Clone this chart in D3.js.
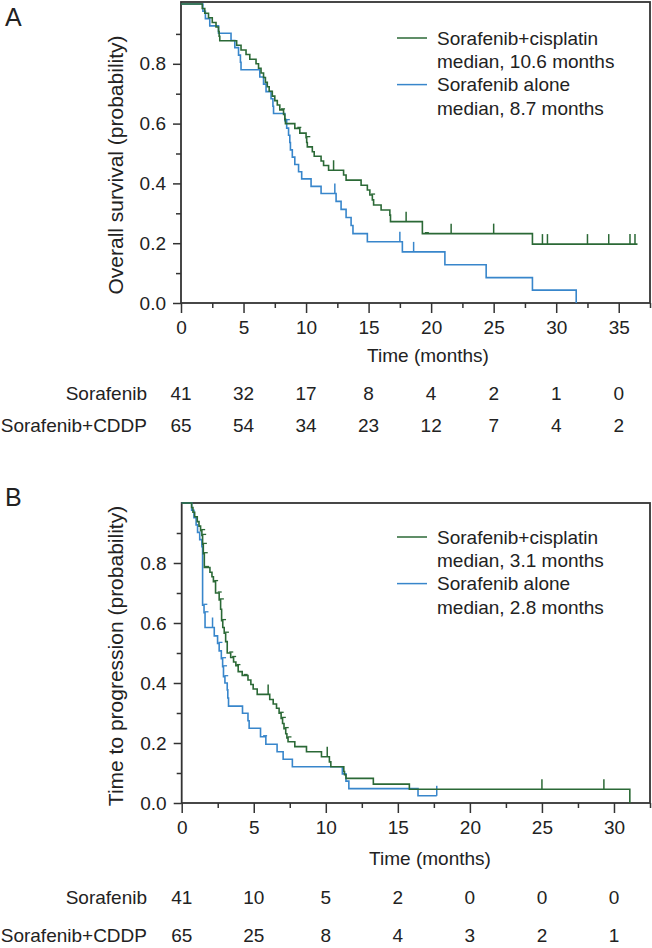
<!DOCTYPE html>
<html><head><meta charset="utf-8">
<script src="https://cdn.jsdelivr.net/npm/d3@7"></script>
<style>body{margin:0;background:#fff}svg{display:block}text{font-family:"Liberation Sans",Arial,sans-serif;fill:#222}</style>
</head><body>
<svg id="c" width="652" height="948"></svg>
<script>
// ---------- DATA ----------
// Panel A: overall survival. Steps are [time (months), survival after drop]
const osComboSteps = [[1.7,0.985],[1.9,0.969],[2.2,0.954],[2.5,0.938],[2.8,0.923],[3.0,0.908],[3.05,0.892],[3.1,0.877],
 [4.45,0.862],[4.8,0.846],[5.2,0.831],[5.5,0.815],[6.0,0.800],[6.2,0.785],[6.4,0.769],[6.6,0.754],[6.75,0.738],[6.9,0.723],
 [7.05,0.708],[7.3,0.692],[7.5,0.677],[7.7,0.662],[7.9,0.646],[8.2,0.631],[8.3,0.615],[8.35,0.600],[9.1,0.584],[9.5,0.568],
 [10.0,0.553],[10.05,0.537],[10.1,0.522],[10.5,0.506],[10.65,0.491],[11.2,0.475],[11.4,0.460],[11.8,0.444],[13.0,0.428],
 [13.2,0.411],[14.4,0.394],[14.9,0.378],[15.1,0.361],[15.3,0.345],[15.4,0.328],[16.0,0.311],[16.7,0.294],[16.75,0.272],
 [19.3,0.232],[28.1,0.197],[36.5,0.197]];
const osComboCensor = [12.2,18.0,21.6,25.0,28.9,29.3,32.5,34.2,35.9,36.3];
const osComboMinor = [8.0,9.3,10.02,15.2,19.5];
const osAloneSteps = [[1.75,0.976],[1.95,0.951],[2.3,0.927],[3.0,0.902],[4.0,0.878],[4.3,0.854],[4.6,0.829],[4.75,0.805],[4.8,0.780],
 [6.3,0.756],[6.6,0.732],[6.8,0.707],[7.2,0.683],[7.35,0.658],[7.4,0.634],[8.3,0.610],[8.45,0.585],[8.6,0.561],[8.7,0.537],
 [8.75,0.512],[8.9,0.488],[9.1,0.463],[9.4,0.439],[9.65,0.415],[10.4,0.390],[11.2,0.366],[12.4,0.340],[12.8,0.313],
 [13.2,0.286],[13.6,0.259],[13.75,0.232],[14.9,0.205],[17.7,0.171],[21.1,0.128],[24.4,0.085],[28.1,0.043],[31.6,0.0]];
const osAloneCensor = [12.3,17.5,18.6];
const osAloneMinor = [8.38];
const osTimeTicks = [0,5,10,15,20,25,30,35];
const osRiskAlone = [41,32,17,8,4,2,1,0];
const osRiskCombo = [65,54,34,23,12,7,4,2];

// Panel B: time to progression
const ttpComboSteps = [[0.69,0.985],[0.78,0.969],[0.9,0.954],[1.08,0.938],[1.2,0.923],[1.31,0.908],[1.4,0.892],[1.45,0.862],
 [1.5,0.831],[1.57,0.785],[1.96,0.769],[2.1,0.754],[2.2,0.738],[2.35,0.700],[2.6,0.677],[2.7,0.646],[2.77,0.608],[2.85,0.585],
 [2.95,0.566],[3.05,0.538],[3.16,0.500],[3.4,0.485],[3.6,0.470],[3.76,0.458],[3.92,0.438],[4.2,0.425],[4.6,0.410],[4.8,0.395],
 [4.96,0.380],[5.24,0.362],[6.11,0.345],[6.35,0.330],[6.58,0.316],[6.76,0.299],[6.9,0.282],[7.0,0.265],[7.1,0.248],[7.22,0.231],
 [7.3,0.217],[7.38,0.204],[7.85,0.188],[8.66,0.171],[9.7,0.154],[10.25,0.137],[10.35,0.121],[11.25,0.105],[11.3,0.094],
 [11.4,0.082],[13.3,0.063],[15.8,0.046],[31.1,0.0]];
const ttpComboCensor = [6.0,10.1,25.0,29.3];
const ttpComboMinor = [1.35,1.42,1.47,1.53,1.62,2.25,2.5,2.65,2.8,3.0,3.3,3.5,3.8,4.3,6.8,6.95,7.15,7.34];
const ttpAloneSteps = [[0.69,0.976],[0.85,0.951],[1.0,0.927],[1.1,0.902],[1.25,0.878],[1.4,0.854],[1.45,0.659],[1.55,0.634],
 [1.62,0.585],[2.26,0.557],[2.49,0.532],[2.6,0.507],[2.75,0.481],[2.84,0.454],[2.9,0.421],[3.0,0.400],[3.16,0.377],[3.2,0.350],
 [3.25,0.323],[4.22,0.299],[4.6,0.274],[4.68,0.249],[5.47,0.221],[5.84,0.196],[6.62,0.171],[7.04,0.146],[7.68,0.121],
 [11.15,0.097],[11.4,0.073],[11.6,0.048],[16.4,0.024],[17.7,0.024]];
const ttpAloneCensor = [2.14,17.7];
const ttpAloneMinor = [1.5,1.58,2.55,2.8,2.87,2.95,5.65];
const ttpTimeTicks = [0,5,10,15,20,25,30];
const ttpRiskAlone = [41,10,5,2,0,0,0];
const ttpRiskCombo = [65,25,8,4,3,2,1];

const groupLabels = ["Sorafenib","Sorafenib+CDDP"];
const legendA = ["Sorafenib+cisplatin","median, 10.6 months","Sorafenib alone","median, 8.7 months"];
const legendB = ["Sorafenib+cisplatin","median, 3.1 months","Sorafenib alone","median, 2.8 months"];
const yMajor = [0,0.2,0.4,0.6,0.8];
const yMinor = [0.1,0.3,0.5,0.7,0.9];

// ---------- DRAW ----------
const GREEN = "#2b6936", BLUE = "#3886cb", FS = 19;
const svg = d3.select("#c");

function stepAt(steps, t){ let s=1; for(const [tt,v] of steps){ if(tt<=t) s=v; else break;} return s; }

function panel(o){
  const g = svg.append("g");
  const x = d3.scaleLinear().domain([0,o.xmax]).range([o.x0,o.x1]);
  const y = d3.scaleLinear().domain([0,1]).range([o.yb,o.yt]);
  // box
  g.append("rect").attr("x",o.x0).attr("y",o.boxTop).attr("width",o.x1-o.x0).attr("height",o.yb-o.boxTop)
    .attr("fill","none").attr("stroke","#333").attr("stroke-width",1.8);
  // y axis
  const ya = g.append("g").attr("transform",`translate(${o.x0},0)`)
    .call(d3.axisLeft(y).tickValues(yMajor).tickSize(8).tickPadding(7).tickFormat(d3.format(".1f")));
  const ym = g.append("g").attr("transform",`translate(${o.x0},0)`)
    .call(d3.axisLeft(y).tickValues(yMinor).tickSize(5).tickFormat(""));
  // x axis
  const minorX = d3.range(2.5, o.xmax+0.01, 5);
  const xa = g.append("g").attr("transform",`translate(0,${o.yb})`)
    .call(d3.axisBottom(x).tickValues(o.ticks).tickSize(10).tickPadding(8));
  const xm = g.append("g").attr("transform",`translate(0,${o.yb})`)
    .call(d3.axisBottom(x).tickValues(minorX).tickSize(5).tickFormat(""));
  [ya,ym,xa,xm].forEach(a=>{a.select(".domain").remove();
    a.selectAll("line").attr("stroke","#333").attr("stroke-width",1.5);
    a.selectAll("text").attr("font-size",FS).attr("font-family","Liberation Sans, Arial, sans-serif").attr("fill","#222");});
  // titles
  g.append("text").attr("transform",`translate(116,${o.ylabY}) rotate(-90)`).attr("text-anchor","middle")
    .attr("dy","0.35em").attr("font-size",21).text(o.ylabel);
  g.append("text").attr("x",o.timeX).attr("y",o.timeY).attr("dy","0.35em").attr("text-anchor","middle")
    .attr("font-size",FS).text("Time (months)");
  g.append("text").attr("x",5).attr("y",o.letterY).attr("font-size",25).text(o.letter);
  // curves
  const line = d3.line().curve(d3.curveStepAfter).x(d=>x(d[0])).y(d=>y(d[1]));
  function curve(steps, censor, minor, color){
    const pts = [[0,1], ...steps];
    g.append("path").attr("d",line(pts)).attr("fill","none").attr("stroke",color).attr("stroke-width",1.6);
    g.selectAll(null).data(censor).enter().append("line")
      .attr("x1",d=>x(d)).attr("x2",d=>x(d)).attr("y1",d=>y(stepAt(steps,d))).attr("y2",d=>y(stepAt(steps,d))-10)
      .attr("stroke",color).attr("stroke-width",1.5);
    g.selectAll(null).data(minor).enter().append("line")
      .attr("x1",d=>x(d)).attr("x2",d=>x(d)+4).attr("y1",d=>y(stepAt(steps,d))-1).attr("y2",d=>y(stepAt(steps,d))-1)
      .attr("stroke",color).attr("stroke-width",1.3);
  }
  curve(o.alone, o.aloneC, o.aloneM, BLUE);
  curve(o.combo, o.comboC, o.comboM, GREEN);
  // legend
  o.legend.forEach((t,i)=>{
    const ly = o.legY + i*23.3;
    if(i%2===0) g.append("line").attr("x1",397).attr("x2",427).attr("y1",ly).attr("y2",ly)
      .attr("stroke", i===0?GREEN:BLUE).attr("stroke-width",1.5);
    g.append("text").attr("x",437).attr("y",ly).attr("dy","0.35em").attr("font-size",FS).text(t);
  });
  // risk table
  [o.riskAlone,o.riskCombo].forEach((arr,r)=>{
    const ry = o.riskY[r];
    g.append("text").attr("x",147).attr("y",ry).attr("dy","0.35em").attr("text-anchor","end").attr("font-size",FS).text(groupLabels[r]);
    g.selectAll(null).data(arr).enter().append("text").attr("x",(d,i)=>x(o.ticks[i])).attr("y",ry).attr("dy","0.35em")
      .attr("text-anchor","middle").attr("font-size",FS).text(d=>d);
  });
}

panel({x0:181,x1:650,xmax:37.5,yb:303,yt:4,boxTop:2,ticks:osTimeTicks,ylabel:"Overall survival (probability)",ylabY:165,
  timeX:428,timeY:355,letter:"A",letterY:26,combo:osComboSteps,comboC:osComboCensor,comboM:osComboMinor,
  alone:osAloneSteps,aloneC:osAloneCensor,aloneM:osAloneMinor,
  legend:legendA,legY:38,riskAlone:osRiskAlone,riskCombo:osRiskCombo,riskY:[393,425]});
panel({x0:181.7,x1:650,xmax:32.5,yb:803,yt:503,boxTop:503,ticks:ttpTimeTicks,ylabel:"Time to progression (probability)",ylabY:656,
  timeX:430,timeY:858,letter:"B",letterY:506,combo:ttpComboSteps,comboC:ttpComboCensor,comboM:ttpComboMinor,
  alone:ttpAloneSteps,aloneC:ttpAloneCensor,aloneM:ttpAloneMinor,
  legend:legendB,legY:537,riskAlone:ttpRiskAlone,riskCombo:ttpRiskCombo,riskY:[897,935]});
</script>
</body></html>
